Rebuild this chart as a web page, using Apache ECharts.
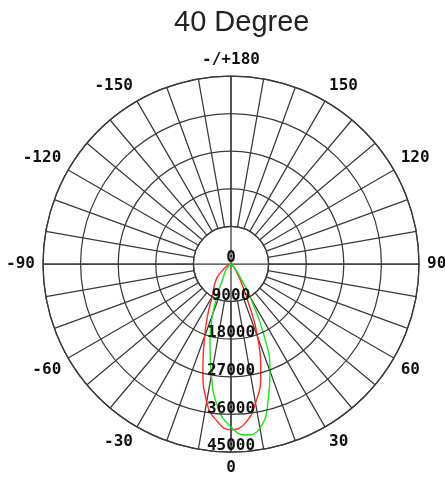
<!DOCTYPE html>
<html>
<head>
<meta charset="utf-8">
<script src="https://cdn.jsdelivr.net/npm/echarts@6/dist/echarts.min.js"></script>
<style>
html,body{margin:0;padding:0;background:#fff;}
#chart{width:445px;height:478px;}
</style>
</head>
<body>
<div id="chart"></div>
<script>
// ---- data ----
const titleText = '40 Degree';
const angleTickValues = [-180, -150, -120, -90, -60, -30, 0, 30, 60, 90, 120, 150];
const angleTickLabels = ['-/+180', '-150', '-120', '-90', '-60', '-30', '0', '30', '60', '90', '120', '150'];
const radiusTickValues = [0, 9000, 18000, 27000, 36000, 45000];
const radiusTickLabels = ['0', '9000', '18000', '27000', '36000', '45000'];

const beamAngles = [-90, -80, -70, -60, -50, -45, -40, -35, -30, -25, -20, -15, -10, -5, 0, 5, 10, 15, 20, 25, 30, 35, 40, 45, 50, 60, 70, 80, 90];
const redValues = [0, 200, 600, 1500, 3500, 4800, 6000, 7200, 9000, 13000, 18500, 26000, 33500, 37800, 39700, 38300, 33800, 27500, 18700, 9000, 4500, 2300, 1300, 800, 500, 200, 100, 0, 0];
const greenValues = [0, 0, 100, 300, 800, 1300, 2000, 2700, 3600, 6800, 12800, 19500, 27000, 34700, 39000, 41100, 39900, 34200, 27300, 18500, 9100, 3700, 1900, 1200, 800, 400, 150, 0, 0];

// ---- chart ----
const CX = 231, CY = 264, R = 188, R0 = 37.6;
const gridColor = '#3a3a3a';
const gridWidth = 1.25;
const monoFont = 'DejaVu Sans Mono';

const chart = echarts.init(document.getElementById('chart'), null, {renderer: 'canvas'});

function pairs(vals) {
  return beamAngles.map((a, i) => [vals[i], a]);
}

const option = {
  backgroundColor: '#ffffff',
  animation: false,
  title: {
    text: titleText,
    left: 169,
    top: 3,
    textStyle: {fontFamily: 'Liberation Sans', fontSize: 29, fontWeight: 'normal', color: '#222'}
  },
  polar: [
    {center: [CX, CY], radius: [R0, R]},
    {center: [CX, CY], radius: [0, R]}
  ],
  angleAxis: [
    {
      polarIndex: 0,
      type: 'value', min: -180, max: 180, interval: 10,
      startAngle: 90, clockwise: false,
      axisLine: {show: true, lineStyle: {color: gridColor, width: gridWidth}},
      axisTick: {show: false},
      splitLine: {show: true, lineStyle: {color: gridColor, width: gridWidth}},
      axisLabel: {
        show: true, margin: 8,
        fontFamily: monoFont, fontWeight: 'bold', fontSize: 16, color: '#111',
        formatter: function (v) {
          const i = angleTickValues.indexOf(v);
          return i >= 0 ? angleTickLabels[i] : '';
        }
      }
    },
    {
      polarIndex: 1,
      type: 'value', min: 0, max: 360, interval: 90,
      startAngle: 270, clockwise: false,
      axisLine: {show: false},
      axisTick: {show: false},
      axisLabel: {show: false},
      splitLine: {show: true, lineStyle: {color: gridColor, width: gridWidth}}
    }
  ],
  radiusAxis: [
    {
      polarIndex: 0, type: 'value', min: 0, max: 1,
      axisLine: {show: false}, axisTick: {show: false}, axisLabel: {show: false}, splitLine: {show: false}
    },
    {
      polarIndex: 1, type: 'value', min: 0, max: 45000, interval: 9000,
      axisLine: {show: false}, axisTick: {show: false},
      splitLine: {show: true, lineStyle: {color: gridColor, width: gridWidth}},
      axisLabel: {
        show: true, margin: 0, align: 'center', verticalAlign: 'bottom', lineHeight: 12,
        fontFamily: monoFont, fontWeight: 'bold', fontSize: 16, color: '#111',
        formatter: function (v) {
          const i = radiusTickValues.indexOf(v);
          return i >= 0 ? radiusTickLabels[i] : '';
        }
      },
      z: 10
    }
  ],
  series: [
    {
      type: 'line', coordinateSystem: 'polar', polarIndex: 1,
      data: pairs(redValues), smooth: true, showSymbol: false,
      lineStyle: {color: '#ff2a2a', width: 1.4}, z: 5
    },
    {
      type: 'line', coordinateSystem: 'polar', polarIndex: 1,
      data: pairs(greenValues), smooth: true, showSymbol: false,
      lineStyle: {color: '#22dd22', width: 1.4}, z: 5
    }
  ]
};
chart.setOption(option);
</script>
</body>
</html>
